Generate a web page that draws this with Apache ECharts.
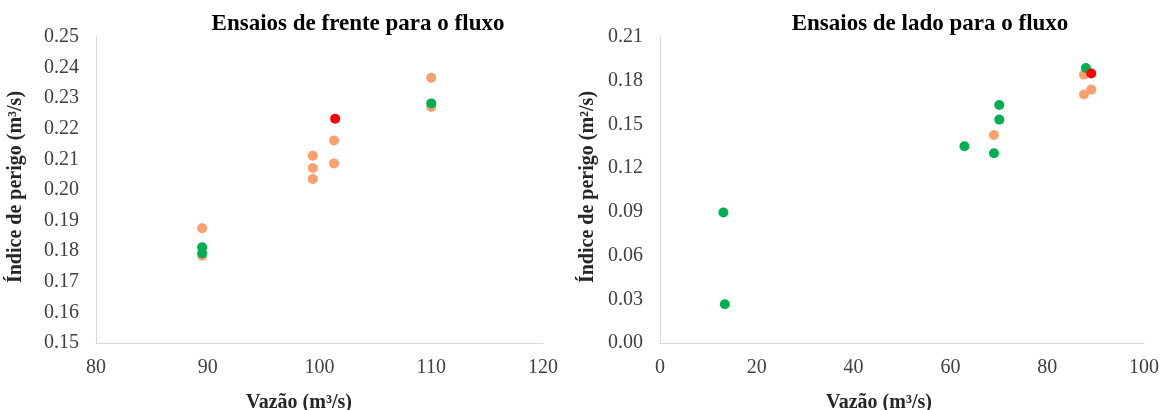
<!DOCTYPE html>
<html>
<head>
<meta charset="utf-8">
<script src="https://cdn.jsdelivr.net/npm/echarts@6/dist/echarts.min.js"></script>
<style>
	html, body { margin: 0; padding: 0; background: #fff; }
	#chart { width: 1166px; height: 410px; }
</style>
</head>
<body>
<div id="chart"></div>
<script type="text/javascript">
	// Ensaios de frente para o fluxo
	var frenteVerde = [[89.5, 0.1813], [89.5, 0.1793], [110, 0.2283]];
	var frenteLaranja = [[89.5, 0.1875], [89.5, 0.1785], [99.4, 0.2112], [99.4, 0.2072], [99.4, 0.2036],
		[101.3, 0.2162], [101.3, 0.2087], [110, 0.2367], [110, 0.2271]];
	var frenteVermelho = [[101.4, 0.2233]];

	// Ensaios de lado para o fluxo
	var ladoVerde = [[13.1, 0.0895], [13.4, 0.0266], [62.9, 0.135], [69.0, 0.1302], [70.1, 0.1633],
		[70.1, 0.1533], [88.0, 0.1887]];
	var ladoLaranja = [[69.0, 0.1428], [87.6, 0.1842], [87.6, 0.1705], [89.1, 0.1739]];
	var ladoVermelho = [[89.1, 0.1849]];

	var titulos = ['Ensaios de frente para o fluxo', 'Ensaios de lado para o fluxo'];
	var nomesY = ['Índice de perigo (m³/s)', 'Índice de perigo (m²/s)'];
	var nomeX = 'Vazão (m³/s)';

	var fonte = '"Liberation Serif", "Times New Roman", serif';
	var verde = '#00B050', laranja = '#F9A06F', vermelho = '#FF0000';

	function eixoX(idx, min, max, intervalo) {
		return {
			gridIndex: idx, type: 'value', min: min, max: max, interval: intervalo,
			axisLine: { lineStyle: { color: '#D9D9D9' } },
			axisTick: { show: false },
			splitLine: { show: false },
			axisLabel: { fontFamily: fonte, fontSize: 20, color: '#404040', margin: 15 }
		};
	}
	function eixoY(idx, min, max, intervalo) {
		return {
			gridIndex: idx, type: 'value', min: min, max: max, interval: intervalo,
			axisLine: { show: true, lineStyle: { color: '#D9D9D9' } },
			axisTick: { show: false },
			splitLine: { show: false },
			axisLabel: { fontFamily: fonte, fontSize: 20, color: '#404040', margin: 17,
				formatter: function (v) { return v.toFixed(2); } }
		};
	}
	function serie(idx, dados, cor) {
		return { type: 'scatter', xAxisIndex: idx, yAxisIndex: idx, data: dados,
			symbolSize: 10, itemStyle: { color: cor, opacity: 1 } };
	}
	function rotulo(texto, x, y, tamanho, girar) {
		return { type: 'text', x: x, y: y, rotation: girar ? Math.PI / 2 : 0,
			style: { text: texto, fontFamily: fonte, fontWeight: 'bold', fontSize: tamanho, fill: '#262626',
				textAlign: 'center', textVerticalAlign: 'middle' } };
	}

	var chart = echarts.init(document.getElementById('chart'));
	chart.setOption({
		animation: false,
		title: [
			{ text: titulos[0], left: 353, top: 8, textAlign: 'center',
				textStyle: { fontFamily: fonte, fontWeight: 'bold', fontSize: 23, color: '#000' } },
			{ text: titulos[1], left: 925, top: 8, textAlign: 'center',
				textStyle: { fontFamily: fonte, fontWeight: 'bold', fontSize: 23, color: '#000' } }
		],
		grid: [
			{ left: 96, width: 447, top: 37, height: 306 },
			{ left: 660, width: 484, top: 37, height: 306 }
		],
		xAxis: [eixoX(0, 80, 120, 10), eixoX(1, 0, 100, 20)],
		yAxis: [eixoY(0, 0.15, 0.25, 0.01), eixoY(1, 0, 0.21, 0.03)],
		graphic: [
			rotulo(nomeX, 299, 403, 20, false),
			rotulo(nomeX, 879, 403, 20, false),
			rotulo(nomesY[0], 16, 187, 20, true),
			rotulo(nomesY[1], 588, 187, 20, true)
		],
		series: [
			serie(0, frenteLaranja, laranja),
			serie(0, frenteVerde, verde),
			serie(0, frenteVermelho, vermelho),
			serie(1, ladoLaranja, laranja),
			serie(1, ladoVerde, verde),
			serie(1, ladoVermelho, vermelho)
		]
	});
</script>
</body>
</html>
